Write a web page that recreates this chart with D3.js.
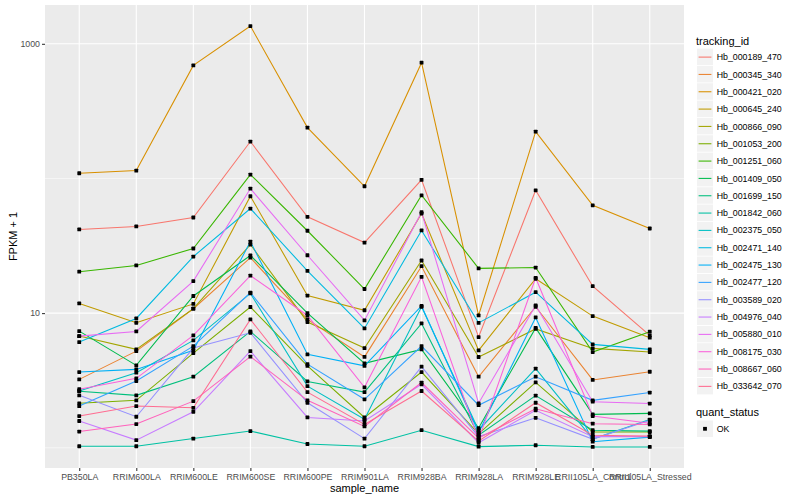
<!DOCTYPE html>
<html><head><meta charset="utf-8">
<script src="https://cdn.jsdelivr.net/npm/d3@7/dist/d3.min.js"></script>
<style>body{margin:0;background:#fff} text{font-family:"Liberation Sans",Arial,Helvetica,sans-serif}</style>
</head><body><svg id="c" width="800" height="500"></svg>
<script>
// ---- data (FPKM + 1) ----
const samples = ["PB350LA","RRIM600LA","RRIM600LE","RRIM600SE","RRIM600PE","RRIM901LA","RRIM928BA","RRIM928LA","RRIM928LE","RRII105LA_Control","RRII105LA_Stressed"];
const trackingIds = ["Hb_000189_470","Hb_000345_340","Hb_000421_020","Hb_000645_240","Hb_000866_090","Hb_001053_200","Hb_001251_060","Hb_001409_050","Hb_001699_150","Hb_001842_060","Hb_002375_050","Hb_002471_140","Hb_002475_130","Hb_002477_120","Hb_003589_020","Hb_004976_040","Hb_005880_010","Hb_008175_030","Hb_008667_060","Hb_033642_070"];
const seriesColors = ["#F8766D","#EA8331","#D89000","#C09B00","#A3A500","#7CAE00","#39B600","#00BB4E","#00BF7D","#00C1A3","#00BFC4","#00BAE0","#00B0F6","#35A2FF","#9590FF","#C77CFF","#E76BF3","#FA62DB","#FF62BC","#FF6C91"];
const hb_000189_470 = [41.8, 44.0, 51.3, 188, 51.9, 33.4, 97.6, 6.64, 81.7, 15.85, 6.83];
const hb_000345_340 = [3.22, 5.22, 10.78, 25.8, 8.98, 4.73, 22.3, 3.37, 11.15, 3.19, 3.67];
const hb_000421_020 = [109.3, 114.4, 691, 1355, 238.5, 87.5, 724, 9.61, 222.7, 63.2, 42.5];
const hb_000645_240 = [11.8, 8.48, 11.7, 73.8, 13.5, 10.5, 54.9, 5.29, 18.0, 9.50, 6.57];
const hb_000866_090 = [6.75, 5.38, 10.8, 32.3, 8.58, 5.50, 24.6, 4.72, 7.63, 5.47, 5.14];
const hb_001053_200 = [2.14, 2.25, 5.05, 11.1, 4.05, 1.68, 3.65, 1.27, 3.06, 1.31, 1.31];
const hb_001251_060 = [20.3, 22.6, 30.2, 106.9, 40.9, 15.1, 75.0, 21.5, 21.8, 5.14, 7.28];
const hb_001409_050 = [7.35, 4.09, 13.4, 26.8, 10.0, 4.24, 5.38, 1.40, 7.77, 1.77, 1.80];
const hb_001699_150 = [2.63, 2.45, 3.37, 7.31, 3.11, 2.59, 8.38, 1.24, 2.44, 1.35, 1.33];
const hb_001842_060 = [1.026, 1.026, 1.17, 1.33, 1.067, 1.026, 1.35, 1.02, 1.044, 1.014, 1.014];
const hb_002375_050 = [2.64, 3.61, 6.27, 14.0, 2.87, 1.63, 11.15, 1.35, 3.87, 1.16, 1.62];
const hb_002471_140 = [6.09, 9.13, 26.3, 59.8, 20.6, 7.70, 41.1, 8.46, 14.3, 5.86, 5.38];
const hb_002475_130 = [3.65, 3.82, 5.29, 34.0, 4.94, 4.06, 11.3, 1.30, 9.29, 1.11, 1.20];
const hb_002477_120 = [2.04, 3.13, 5.69, 14.2, 4.18, 2.29, 5.69, 2.07, 3.37, 2.25, 2.57];
const hb_003589_020 = [2.45, 1.70, 5.50, 7.15, 2.16, 1.17, 4.00, 1.21, 1.67, 1.16, 1.60];
const hb_004976_040 = [1.58, 1.14, 1.85, 5.22, 1.68, 1.58, 2.96, 1.09, 1.90, 1.21, 1.21];
const hb_005880_010 = [6.75, 7.31, 17.3, 84.1, 26.9, 8.83, 56.1, 2.14, 11.4, 2.20, 2.13];
const hb_008175_030 = [2.72, 3.28, 6.83, 19.0, 9.61, 2.81, 18.6, 1.15, 18.3, 1.72, 1.52];
const hb_008667_060 = [1.32, 1.50, 2.22, 4.75, 2.25, 1.44, 3.05, 1.18, 1.95, 1.51, 1.49];
const hb_033642_070 = [1.72, 2.04, 1.98, 8.98, 2.59, 1.49, 2.64, 1.12, 2.16, 1.24, 1.22];
const yMajorTicks = [10, 1000];
const yMinorTicks = [1, 100];
const quantStatus = ["OK"];

const seriesValues = [hb_000189_470, hb_000345_340, hb_000421_020, hb_000645_240, hb_000866_090, hb_001053_200, hb_001251_060, hb_001409_050, hb_001699_150, hb_001842_060, hb_002375_050, hb_002471_140, hb_002475_130, hb_002477_120, hb_003589_020, hb_004976_040, hb_005880_010, hb_008175_030, hb_008667_060, hb_033642_070];
const series = trackingIds.map((id, i) => ({id, color: seriesColors[i], values: seriesValues[i]}));

// ---- layout ----
const svg = d3.select("#c");
const P = {l: 45, r: 684, t: 5, b: 468};

const x = d3.scalePoint().domain(samples).range([P.l, P.r]).padding(0.6);
const allV = seriesValues.flat();
const lgExt = d3.extent(allV, v => Math.log10(v));
const pad = (lgExt[1] - lgExt[0]) * 0.05;
const y = d3.scaleLog().domain([Math.pow(10, lgExt[0] - pad), Math.pow(10, lgExt[1] + pad)]).range([P.b, P.t]);

svg.append("rect").attr("x", P.l).attr("y", P.t).attr("width", P.r - P.l).attr("height", P.b - P.t).attr("fill", "#EBEBEB");

const grid = svg.append("g");
grid.selectAll(".ymin").data(yMinorTicks).join("line")
  .attr("x1", P.l).attr("x2", P.r).attr("y1", d => y(d)).attr("y2", d => y(d))
  .attr("stroke", "#fff").attr("stroke-width", 0.55);
grid.selectAll(".ymaj").data(yMajorTicks).join("line")
  .attr("x1", P.l).attr("x2", P.r).attr("y1", d => y(d)).attr("y2", d => y(d))
  .attr("stroke", "#fff").attr("stroke-width", 1.1);
grid.selectAll(".xmaj").data(samples).join("line")
  .attr("x1", d => x(d)).attr("x2", d => x(d)).attr("y1", P.t).attr("y2", P.b)
  .attr("stroke", "#fff").attr("stroke-width", 1.1);

// lines
const line = d3.line().x((v, i) => x(samples[i])).y(v => y(v));
svg.append("g").selectAll("path").data(series).join("path")
  .attr("d", d => line(d.values)).attr("fill", "none")
  .attr("stroke", d => d.color).attr("stroke-width", 1.07);

// points
const pts = [];
series.forEach(s => s.values.forEach((v, i) => pts.push({s: samples[i], v})));
svg.append("g").selectAll("rect").data(pts).join("rect")
  .attr("x", d => x(d.s) - 1.9).attr("y", d => y(d.v) - 1.9)
  .attr("width", 3.8).attr("height", 3.8).attr("rx", 0.6).attr("fill", "#000");

// axes
const ax = svg.append("g").attr("transform", `translate(${P.l},0)`)
  .call(d3.axisLeft(y).tickValues(yMajorTicks).tickFormat(d3.format("d")).tickSize(3).tickPadding(2));
const bx = svg.append("g").attr("transform", `translate(0,${P.b})`)
  .call(d3.axisBottom(x).tickSize(3).tickPadding(3));
[ax, bx].forEach(g => {
  g.select(".domain").remove();
  g.selectAll(".tick line").attr("stroke", "#333333").attr("stroke-width", 1.07);
  g.selectAll(".tick text").attr("fill", "#4D4D4D").style("font-size", "8.8px").style("font-family", '"Liberation Sans",Arial,sans-serif');
});

svg.append("text").attr("x", (P.l + P.r) / 2).attr("y", 492).attr("text-anchor", "middle")
  .style("font-size", "11px").attr("fill", "#000").text("sample_name");
svg.append("text").attr("transform", `translate(17,${(P.t + P.b) / 2}) rotate(-90)`).attr("text-anchor", "middle")
  .style("font-size", "11px").attr("fill", "#000").text("FPKM + 1");

// legend
const lg = svg.append("g");
lg.append("text").attr("x", 696).attr("y", 44.5).style("font-size", "11px").text("tracking_id");
const keyH = 17.33, key0 = 48.6;
const items = lg.selectAll(".it").data(series).join("g").attr("transform", (d, i) => `translate(697,${key0 + i * keyH})`);
items.append("rect").attr("width", 16).attr("height", 16.5).attr("fill", "#F2F2F2");
items.append("line").attr("x1", 1.6).attr("x2", 14.4).attr("y1", 8.5).attr("y2", 8.5).attr("stroke", d => d.color).attr("stroke-width", 1.07);
items.append("text").attr("x", 19.7).attr("y", 11.6).style("font-size", "8.8px").text(d => d.id);

lg.append("text").attr("x", 696).attr("y", 416.3).style("font-size", "11px").text("quant_status");
const q = lg.selectAll(".q").data(quantStatus).join("g").attr("transform", (d, i) => `translate(697,${420.5 + i * keyH})`);
q.append("rect").attr("width", 16).attr("height", 16.5).attr("fill", "#F2F2F2");
q.append("rect").attr("x", 6.1).attr("y", 6.4).attr("width", 3.8).attr("height", 3.8).attr("fill", "#000");
q.append("text").attr("x", 19.7).attr("y", 11.6).style("font-size", "8.8px").text(d => d);
</script></body></html>
